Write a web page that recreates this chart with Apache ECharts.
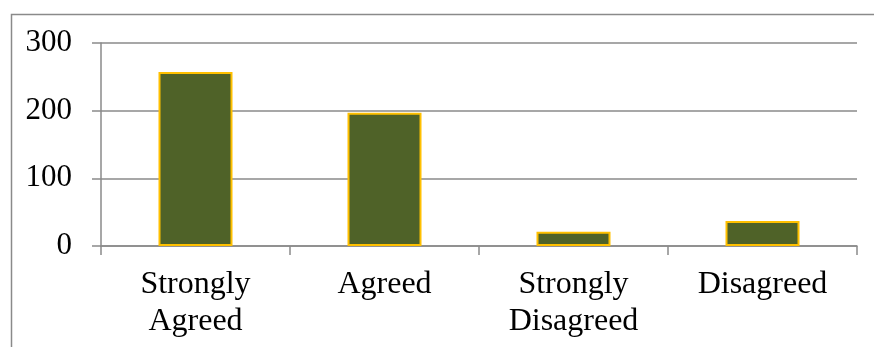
<!DOCTYPE html>
<html>
<head>
<meta charset="utf-8">
<script src="https://cdn.jsdelivr.net/npm/echarts@6/dist/echarts.min.js"></script>
<style>
  html, body { margin: 0; padding: 0; background: #ffffff; }
  #chart { width: 874px; height: 347px; }
</style>
</head>
<body>
<div id="chart"></div>
<script>
// Survey responses per answer category
const categories = ['Strongly\nAgreed', 'Agreed', 'Strongly\nDisagreed', 'Disagreed'];
const responses = [257, 197, 21, 37];
const yTicks = { min: 0, max: 300, interval: 100 };

const axisGrey = '#8a8a8a';
const serif = '"Liberation Serif", "Times New Roman", serif';

const chart = echarts.init(document.getElementById('chart'), null, { renderer: 'canvas' });

chart.setOption({
  animation: false,
  backgroundColor: '#ffffff',
  graphic: [{
    type: 'rect',
    left: 9,
    top: 12,
    shape: { x: 0, y: 0, width: 1000, height: 500 },
    style: { fill: 'none', stroke: axisGrey, lineWidth: 1.5 },
    silent: true,
    z: -1
  }],
  grid: { left: 101, right: 17, top: 43, bottom: 101 },
  xAxis: {
    type: 'category',
    data: categories,
    boundaryGap: true,
    axisLine: { show: true, lineStyle: { color: axisGrey, width: 1.5 } },
    axisTick: { show: true, length: 9, interval: 0, lineStyle: { color: axisGrey, width: 1.5 } },
    axisLabel: {
      interval: 0,
      margin: 20,
      color: '#000000',
      fontFamily: serif,
      fontSize: 32,
      lineHeight: 37
    }
  },
  yAxis: {
    type: 'value',
    min: yTicks.min,
    max: yTicks.max,
    interval: yTicks.interval,
    axisLine: { show: true, lineStyle: { color: axisGrey, width: 1.5 } },
    axisTick: { show: true, length: 9, lineStyle: { color: axisGrey, width: 1.5 } },
    splitLine: { show: true, lineStyle: { color: axisGrey, width: 1.5 } },
    axisLabel: {
      margin: 29,
      color: '#000000',
      fontFamily: serif,
      fontSize: 31
    }
  },
  series: [{
    type: 'bar',
    data: responses,
    barWidth: 74,
    itemStyle: { color: '#4F6228', borderColor: '#FFC000', borderWidth: 2 }
  }]
});
</script>
</body>
</html>
